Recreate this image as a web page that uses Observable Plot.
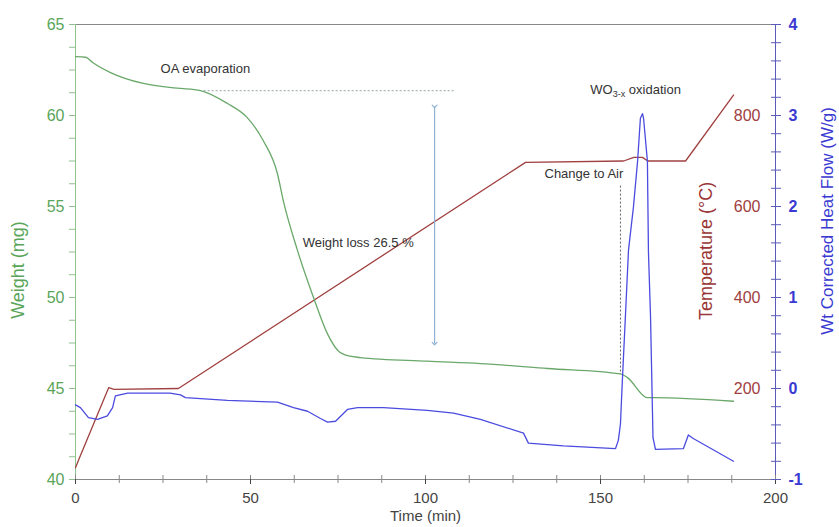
<!DOCTYPE html>
<html>
<head>
<meta charset="utf-8">
<script src="https://cdn.jsdelivr.net/npm/d3@7"></script>
<script src="https://cdn.jsdelivr.net/npm/@observablehq/plot@0.6"></script>
<style>
  html, body { margin: 0; padding: 0; background: #fff; }
</style>
</head>
<body>
<div id="chart"></div>
<script>
// ---- Data ----
const timeW = [0, 2.9, 5, 10, 19.4, 29, 35.7, 43.4, 49, 53.7, 57.7, 59.4, 63.4, 68, 72, 74.9, 77.7, 81.4, 100.5, 115.7, 134.9, 155.7, 157.7, 163.4, 165.1, 188];
const weight = [63.24, 63.2, 62.9, 62.36, 61.76, 61.5, 61.37, 60.66, 59.9, 58.6, 56.8, 55.3, 52.6, 50.0, 48.0, 47.1, 46.8, 46.7, 46.5, 46.37, 46.1, 45.8, 45.6, 44.5, 44.5, 44.3];

const timeT = [0, 1, 9.5, 11, 29.4, 128.6, 156.6, 159.5, 162, 163.5, 174.3, 188];
const temperature = [26, 45, 202, 198, 200, 697, 700, 708, 708, 700, 700, 845];

const timeH = [0, 1.4, 3.7, 6.3, 9.1, 10.6, 11.4, 14.9, 27, 30, 31.4, 43.4, 57.7, 62.3, 66.3, 70, 72, 74.3, 77.7, 80.6, 88, 100.5, 108, 115.7, 128, 129.4, 139.4, 154.3, 155.1, 155.7, 156.2, 157.1, 158, 159.4, 160.6, 161.4, 162, 162.3, 163.4, 163.7, 164.3, 165, 165.7, 173.7, 175.1, 176.5, 188];
const heatFlow = [-0.18, -0.21, -0.32, -0.34, -0.30, -0.21, -0.08, -0.05, -0.05, -0.07, -0.10, -0.13, -0.15, -0.21, -0.25, -0.33, -0.37, -0.36, -0.23, -0.21, -0.21, -0.24, -0.27, -0.34, -0.49, -0.60, -0.63, -0.66, -0.57, -0.39, 0.05, 0.78, 1.52, 1.99, 2.5, 2.97, 3.02, 2.97, 2.5, 1.5, 0.78, -0.54, -0.67, -0.66, -0.51, -0.55, -0.80];

const xTicks = [0, 50, 100, 150, 200];
const weightTicks = [40, 45, 50, 55, 60, 65];
const heatTicks = [-1, 0, 1, 2, 3, 4];
const tempTicks = [200, 400, 600, 800];

// annotations (data units: time, weight)
const annoText = ["OA evaporation", "Weight loss 26.5 %", "Change to Air", "WO3-x oxidation"];
const annoTime = [24.3, 64.9, 134, 147.1];
const annoWeight = [62.58, 53.0, 56.8, 61.43];
const plateauLine = {t1: 36.6, t2: 108.6, w: 61.37};
const lossArrow = {t: 102.6, w1: 60.5, w2: 47.47};
const airLine = {t: 155.7, w1: 56.15, w2: 45.8};

// ---- Mapping of secondary axes onto the weight scale ----
const hfToW = hf => 40 + (hf + 1) * 5;      // -1..4  -> 40..65
const tToW = T => 40 + T / 40;              // 0..1000 -> 40..65

const wData = timeW.map((t, i) => ({t, y: weight[i]}));
const tData = timeT.map((t, i) => ({t, y: tToW(temperature[i])}));
const hData = timeH.map((t, i) => ({t, y: hfToW(heatFlow[i])}));
const annos = annoText.map((s, i) => ({s, t: annoTime[i], y: annoWeight[i]}));

const minorX = d3.range(0, 200.01, 12.5);
const minorW = d3.range(40, 65.01, 1.25);
const minorR = d3.range(40, 65.01, 1);

const green = "#5aa55a", brown = "#a04040", blue = "#3a3ad2";

const chart = Plot.plot({
  width: 839,
  height: 527,
  marginTop: 24,
  marginLeft: 75,
  marginRight: 64,
  marginBottom: 48,
  style: {fontFamily: "'Liberation Sans', Arial, sans-serif", fontSize: "15px", background: "#fff"},
  x: {domain: [0, 200]},
  y: {domain: [40, 65]},
  marks: [
    // frame
    Plot.ruleY([65], {stroke: "#888"}),
    Plot.ruleY([40], {stroke: "#888"}),
    Plot.ruleX([0], {stroke: "#8fc28f"}),
    Plot.ruleX([200], {stroke: "#5a5ab8"}),

    // x axis
    Plot.axisX(minorX, {tickSize: 8, dy: -4, tickFormat: () => "", stroke: "#888", label: null}),
    Plot.axisX(xTicks, {tickSize: 5, tickPadding: 8, color: "#444", fontSize: 15,
      label: "Time (min)", labelAnchor: "center", labelArrow: "none", labelOffset: 41}),

    // left axis
    Plot.axisY(minorW, {anchor: "left", tickSize: 6, tickFormat: () => "", stroke: "#8fc28f", label: null}),
    Plot.axisY(weightTicks, {anchor: "left", tickSize: 6, tickPadding: 5, color: green, stroke: "#8fc28f", fontSize: 16, label: null}),

    // right axis (heat flow), cross ticks
    Plot.axisY(minorR, {anchor: "right", tickSize: 10, dx: -5, tickFormat: () => "", stroke: "#5a5ab8", label: null}),
    Plot.axisY(heatTicks.map(hfToW), {anchor: "right", tickSize: 5, tickPadding: 8, color: blue, stroke: "#5a5ab8",
      fontSize: 16, fontWeight: "bold", tickFormat: w => String((w - 40) / 5 - 1), label: null}),

    // temperature tick labels (inside, to the left of the right axis)
    Plot.text(tempTicks, {x: 200, y: d => tToW(d), text: d => String(d), dx: -15, textAnchor: "end",
      fill: brown, fontSize: 16}),

    // curves
    Plot.line(tData, {x: "t", y: "y", stroke: brown, strokeWidth: 1.3}),
    Plot.line(wData, {x: "t", y: "y", stroke: "#6aa86a", strokeWidth: 1.3, curve: "monotone-x"}),
    Plot.line(hData, {x: "t", y: "y", stroke: "#4b4be0", strokeWidth: 1.3}),

    // annotations
    Plot.link([plateauLine], {x1: "t1", x2: "t2", y1: "w", y2: "w", stroke: "#a8b4b8", strokeDasharray: "2,2", strokeWidth: 1.2}),
    Plot.link([lossArrow], {x1: "t", x2: "t", y1: "w1", y2: "w2", stroke: "#8fb3d6", strokeWidth: 1.2,
      markerStart: "arrow", markerEnd: "arrow"}),
    Plot.link([airLine], {x1: "t", x2: "t", y1: "w1", y2: "w2", stroke: "#555", strokeDasharray: "2,2", strokeWidth: 0.9}),
    Plot.text(annos, {x: "t", y: "y", text: "s", textAnchor: "start", fill: "#333", fontSize: 13}),

    // axis titles
    Plot.text([0], {frameAnchor: "left", textAnchor: "middle", dx: -57, dy: 18, rotate: -90,
      text: () => "Weight (mg)", fill: green, fontSize: 18}),
    Plot.text([0], {frameAnchor: "right", textAnchor: "middle", dx: -69, dy: -1, rotate: -90,
      text: () => "Temperature (°C)", fill: "#9a3535", fontSize: 18}),
    Plot.text([0], {frameAnchor: "right", textAnchor: "middle", dx: 52, dy: -31, rotate: -90,
      text: () => "Wt Corrected Heat Flow (W/g)", fill: blue, fontSize: 17})
  ]
});

document.getElementById("chart").appendChild(chart);

// subscript for WO3-x
d3.select(chart).selectAll("text").filter(function () { return this.textContent === "WO3-x oxidation"; })
  .each(function () {
    const t = d3.select(this);
    t.text(null);
    t.append("tspan").text("WO");
    t.append("tspan").attr("font-size", "9px").attr("dy", "3").text("3-x");
    t.append("tspan").attr("dy", "-3").text(" oxidation");
  });
</script>
</body>
</html>
